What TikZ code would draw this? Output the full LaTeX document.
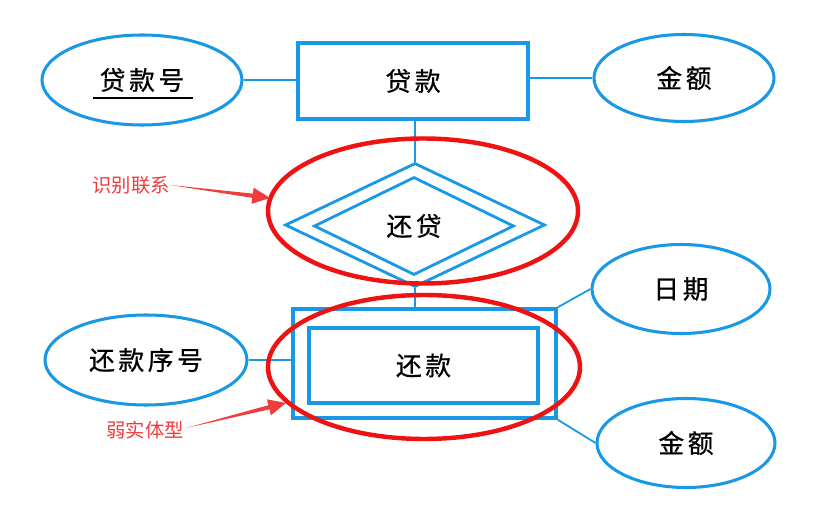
\documentclass[tikz,border=0pt]{standalone}
\usepackage{fontspec}
\setmainfont{Noto Sans CJK SC}
\newfontfamily\cjkls[LetterSpace=14,FakeBold=0.6]{Noto Sans CJK SC}
\newfontfamily\cjklbl{Noto Sans CJK SC}
\usetikzlibrary{shapes.geometric,calc}
\definecolor{erblue}{RGB}{25,152,230}
\definecolor{hlred}{RGB}{238,18,18}
\definecolor{lblred}{RGB}{240,60,60}
\begin{document}
\begin{tikzpicture}[x=0.03cm,y=-0.03cm,
  attr/.style={ellipse,draw=erblue,line width=2.6pt,inner sep=0pt,font=\cjkls\fontsize{22}{26}\selectfont},
  entity/.style={rectangle,draw=erblue,line width=3.2pt,inner sep=0pt,font=\cjkls\fontsize{22}{26}\selectfont},
  rel/.style={diamond,draw=erblue,line width=2.4pt,inner sep=0pt,aspect=2},
  conn/.style={draw=erblue,line width=1.5pt},
  hl/.style={draw=hlred,line width=3.8pt},
  note/.style={text=lblred,font=\cjklbl\fontsize{16.5}{19}\selectfont,inner sep=0pt},
  notearrow/.style={fill=lblred,draw=none}]
\useasboundingbox (0,0) rectangle (834,515);
\fill[white] (0,0) rectangle (834,515);

% entities and attributes
\node[attr,minimum width=6.0cm,minimum height=2.7cm] (dkh) at (142,80) {贷款号};
\draw[line width=1.4pt] ($(dkh.center)+(-49,18)$) -- ($(dkh.center)+(51,18)$);
\node[entity,minimum width=6.9cm,minimum height=2.28cm] (dk) at (413,81) {贷款};
\node[attr,minimum width=5.4cm,minimum height=2.61cm] (je1) at (684,78) {金额};

\node[rel,minimum width=7.8cm,minimum height=3.72cm] (hdo) at (415,225) {};
\node[rel,minimum width=6.0cm,minimum height=2.94cm,font=\cjkls\fontsize{22}{26}\selectfont] (hd) at (414,226) {还贷};

\node[entity,line width=2.8pt,minimum width=7.89cm,minimum height=3.27cm] (hko) at (424.5,363.5) {};
\node[entity,minimum width=6.87cm,minimum height=2.25cm] (hk) at (423.5,365.5) {还款};

\node[attr,minimum width=6.06cm,minimum height=2.7cm] (hkxh) at (146,360) {还款序号};
\node[attr,minimum width=5.34cm,minimum height=2.67cm] (rq) at (681,289) {日期};
\node[attr,minimum width=5.34cm,minimum height=2.67cm] (je2) at (686,443) {金额};

% connectors
\draw[conn] (dkh.east) -- (dkh.east -| dk.west);
\draw[conn] (dk.east |- je1.west) -- (je1.west);
\draw[conn] (dk.south -| hdo.north) -- (hdo.north);
\draw[conn] (hdo.south) -- (hdo.south |- hko.north);
\draw[conn] (hkxh.east) -- (hkxh.east -| hko.west);
\draw[conn] (hko.north east) -- (rq.west);
\draw[conn] (hko.south east) -- (je2.west);

% highlights
\draw[hl] (423,211) ellipse [x radius=155,y radius=72.5];
\draw[hl] (424,367) ellipse [x radius=156,y radius=72];

% notes
\node[note,anchor=east] (n1) at (170,185) {识别联系};
\coordinate (t1) at (n1.east);
\coordinate (h1) at (270,198);
\coordinate (b1) at ($(h1)!15pt!(t1)$);
\fill[notearrow] (t1) -- ($(b1)!1.8pt!90:(h1)$) -- ($(b1)!7pt!90:(h1)$) -- (h1)
  -- ($(b1)!7pt!-90:(h1)$) -- ($(b1)!1.8pt!-90:(h1)$) -- cycle;

\node[note,anchor=east] (n2) at (184,430) {弱实体型};
\coordinate (t2) at ($(n2.east)+(2,-2)$);
\coordinate (h2) at (286,403);
\coordinate (b2) at ($(h2)!15pt!(t2)$);
\fill[notearrow] (t2) -- ($(b2)!1.8pt!90:(h2)$) -- ($(b2)!7pt!90:(h2)$) -- (h2)
  -- ($(b2)!7pt!-90:(h2)$) -- ($(b2)!1.8pt!-90:(h2)$) -- cycle;
\end{tikzpicture}
\end{document}
